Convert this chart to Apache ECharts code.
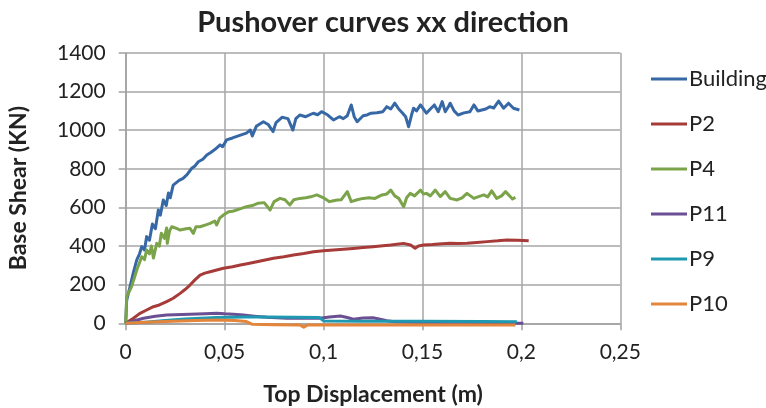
<!DOCTYPE html>
<html>
<head>
<meta charset="utf-8">
<script src="https://cdn.jsdelivr.net/npm/echarts@6/dist/echarts.min.js"></script>
<style>html,body{margin:0;padding:0;background:#fff;}#c{width:766px;height:408px;}</style>
</head>
<body>
<div id="c"></div>
<script>
const seriesNames = ['Building', 'P2', 'P4', 'P11', 'P9', 'P10'];
const xTicks = [0, 0.05, 0.1, 0.15, 0.2, 0.25];
const yTicks = [0, 200, 400, 600, 800, 1000, 1200, 1400];

const building = [[0,0],[0.0005,120],[0.0022,190],[0.0038,260],[0.0056,328],[0.007,360],[0.0081,397],[0.0095,380],[0.0106,449],[0.012,430],[0.0135,514],[0.015,490],[0.0165,587],[0.0175,560],[0.019,639],[0.0205,610],[0.0216,675],[0.0225,650],[0.024,716],[0.027,740],[0.029,751],[0.031,770],[0.0334,803],[0.035,815],[0.0367,837],[0.039,850],[0.041,872],[0.043,885],[0.0452,901],[0.0477,924],[0.049,915],[0.051,950],[0.054,960],[0.058,975],[0.061,985],[0.063,1001],[0.064,970],[0.066,1020],[0.0696,1044],[0.072,1030],[0.0745,993],[0.076,1040],[0.079,1067],[0.082,1060],[0.0845,1001],[0.086,1060],[0.088,1079],[0.091,1070],[0.0948,1088],[0.097,1080],[0.099,1096],[0.102,1080],[0.105,1053],[0.108,1070],[0.11,1060],[0.112,1075],[0.114,1131],[0.1155,1070],[0.117,1044],[0.12,1075],[0.122,1079],[0.124,1088],[0.127,1091],[0.13,1096],[0.132,1122],[0.134,1110],[0.136,1140],[0.138,1110],[0.14,1088],[0.1415,1070],[0.143,1018],[0.1445,1080],[0.1455,1114],[0.147,1100],[0.149,1131],[0.1505,1110],[0.152,1088],[0.154,1110],[0.156,1131],[0.158,1096],[0.16,1148],[0.1615,1096],[0.163,1120],[0.164,1140],[0.166,1100],[0.168,1079],[0.171,1090],[0.174,1096],[0.176,1131],[0.178,1100],[0.179,1105],[0.182,1110],[0.184,1122],[0.186,1115],[0.1885,1151],[0.191,1114],[0.1935,1140],[0.196,1114],[0.199,1105]];

const p2 = [[0,0],[0.0039,26],[0.007,50],[0.0106,69],[0.014,86],[0.017,95],[0.0207,112],[0.024,130],[0.0275,155],[0.03,175],[0.0325,198],[0.035,225],[0.0376,250],[0.04,260],[0.0427,267],[0.046,276],[0.0494,285],[0.054,293],[0.058,302],[0.062,310],[0.0663,319],[0.0705,328],[0.0747,337],[0.08,345],[0.0848,354],[0.09,362],[0.095,371],[0.1,376],[0.105,380],[0.11,384],[0.115,388],[0.12,392],[0.125,397],[0.13,402],[0.134,406],[0.1404,414],[0.144,406],[0.1463,389],[0.148,400],[0.1506,406],[0.155,408],[0.16,412],[0.164,414],[0.168,413],[0.1725,414],[0.1775,418],[0.1827,423],[0.188,427],[0.1928,432],[0.198,430],[0.2037,428]];

const p4 = [[0,0],[0.0005,138],[0.003,190],[0.0056,276],[0.0081,345],[0.0095,330],[0.0106,380],[0.012,360],[0.013,400],[0.014,338],[0.0157,414],[0.017,400],[0.018,466],[0.0195,440],[0.0207,494],[0.021,414],[0.0222,480],[0.0233,500],[0.026,490],[0.0275,483],[0.0305,490],[0.0325,492],[0.0342,466],[0.0355,500],[0.0376,500],[0.0405,510],[0.0427,518],[0.045,530],[0.046,509],[0.0475,545],[0.0494,561],[0.052,578],[0.054,580],[0.056,587],[0.0585,595],[0.061,604],[0.064,610],[0.067,622],[0.07,625],[0.073,587],[0.075,630],[0.078,647],[0.0805,640],[0.083,613],[0.085,640],[0.088,647],[0.091,650],[0.0935,655],[0.0966,665],[0.1,650],[0.103,630],[0.105,635],[0.107,639],[0.109,640],[0.112,682],[0.114,630],[0.117,640],[0.12,647],[0.123,650],[0.126,647],[0.1295,665],[0.132,670],[0.134,690],[0.136,660],[0.138,647],[0.1405,604],[0.142,650],[0.1438,673],[0.146,660],[0.149,690],[0.1505,670],[0.152,673],[0.154,660],[0.1565,690],[0.159,656],[0.1615,682],[0.164,647],[0.1675,639],[0.17,650],[0.1725,673],[0.176,647],[0.178,655],[0.181,665],[0.183,655],[0.185,686],[0.1875,647],[0.19,660],[0.192,682],[0.1955,644],[0.197,652]];

const p11 = [[0,0],[0.004,12],[0.009,26],[0.015,36],[0.0207,43],[0.0325,47],[0.04,50],[0.046,52],[0.05,49],[0.0544,47],[0.0595,43],[0.065,37],[0.0713,31],[0.0815,26],[0.0916,26],[0.098,26],[0.103,33],[0.1085,38],[0.112,30],[0.115,21],[0.12,27],[0.125,29],[0.128,22],[0.132,13],[0.136,8],[0.15,6],[0.17,5],[0.19,4],[0.1985,0],[0.201,0]];

const p9 = [[0,0],[0.01,6],[0.02,14],[0.03,22],[0.046,30],[0.06,32],[0.0713,32],[0.085,31],[0.098,30],[0.1,12],[0.12,11],[0.15,10],[0.18,9],[0.1977,8]];

const p10 = [[0,0],[0.01,5],[0.02,9],[0.035,14],[0.046,17],[0.055,14],[0.061,9],[0.064,-5],[0.075,-7],[0.088,-9],[0.09,-20],[0.092,-9],[0.12,-9],[0.15,-9],[0.197,-9]];

const colors = ['#3768a6', '#a73b39', '#7aa34a', '#6a4f92', '#1f99b1', '#e3853b'];
const allData = [building, p2, p4, p11, p9, p10];

const chart = echarts.init(document.getElementById('c'), null, {renderer: 'canvas'});
const FONT = 'Lato';
chart.setOption({
  animation: false,
  color: colors,
  title: {
    text: 'Pushover curves xx direction',
    left: 'center',
    top: 3,
    textStyle: {fontFamily: FONT, fontSize: 29, fontWeight: 'bold', color: '#222'}
  },
  legend: {
    orient: 'vertical',
    left: 646,
    top: 63,
    icon: 'rect',
    itemWidth: 36,
    itemHeight: 3,
    itemGap: 23,
    data: seriesNames,
    textStyle: {fontFamily: FONT, fontSize: 22, color: '#222', padding: [0, 0, 0, -3]}
  },
  grid: {left: 125.7, right: 145.7, top: 53, bottom: 84.7, containLabel: false, outerBoundsMode: 'none'},
  xAxis: {
    type: 'value',
    min: xTicks[0],
    max: xTicks[xTicks.length - 1],
    interval: 0.05,
    name: 'Top Displacement (m)',
    nameLocation: 'middle',
    nameGap: 60,
    nameTextStyle: {fontFamily: FONT, fontSize: 23, fontWeight: 'bold', color: '#222'},
    axisLine: {show: true, lineStyle: {color: '#a0a0a0', width: 1.5}},
    axisTick: {show: true, length: 7, lineStyle: {color: '#a0a0a0', width: 1.5}},
    splitLine: {show: true, lineStyle: {color: '#a6a6a6', width: 1.5}},
    axisLabel: {
      margin: 18,
      fontFamily: FONT, fontSize: 21, color: '#222',
      formatter: v => String(Math.round(v * 100) / 100).replace('.', ',')
    }
  },
  yAxis: {
    type: 'value',
    min: yTicks[0],
    max: yTicks[yTicks.length - 1],
    interval: 200,
    name: 'Base Shear (KN)',
    nameLocation: 'middle',
    nameGap: 96,
    nameRotate: 90,
    nameTextStyle: {fontFamily: FONT, fontSize: 23, fontWeight: 'bold', color: '#222'},
    axisLine: {show: true, lineStyle: {color: '#a0a0a0', width: 1.5}},
    axisTick: {show: true, length: 7, lineStyle: {color: '#a0a0a0', width: 1.5}},
    splitLine: {show: true, lineStyle: {color: '#a6a6a6', width: 1.5}},
    axisLabel: {margin: 20, fontFamily: FONT, fontSize: 21, color: '#222', formatter: v => String(v)}
  },
  series: seriesNames.map((n, i) => ({
    name: n,
    type: 'line',
    data: allData[i],
    showSymbol: false,
    symbol: 'none',
    clip: false,
    lineStyle: {width: 3, color: colors[i], join: 'round'},
    itemStyle: {color: colors[i]}
  }))
});
</script>
</body>
</html>
